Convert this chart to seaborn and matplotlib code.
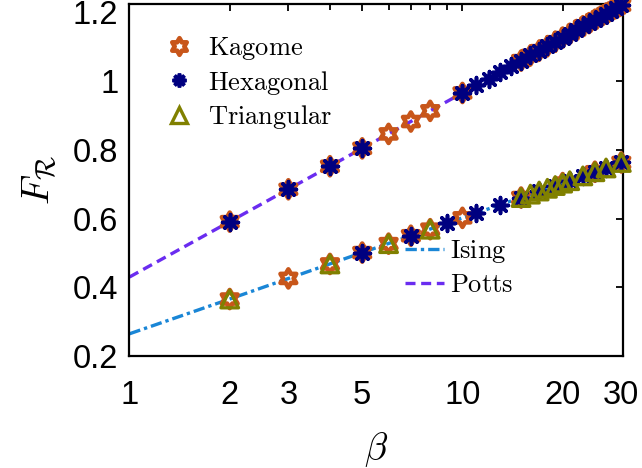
import numpy as np
import pandas as pd
import seaborn as sns
import matplotlib.pyplot as plt
from matplotlib.path import Path
from matplotlib.lines import Line2D
from matplotlib.ticker import FixedLocator, FixedFormatter, NullFormatter

# ---- data ----
kag_up_beta = [2, 3, 4, 5, 6, 7, 8, 10, 15, 16, 17, 18, 19, 20, 21, 22, 23, 24, 25, 26, 27, 28, 29, 30]
kag_up_F = [0.591, 0.685, 0.752, 0.804, 0.846, 0.882, 0.913, 0.965, 1.059, 1.074, 1.088, 1.101, 1.114,
            1.126, 1.137, 1.148, 1.159, 1.168, 1.178, 1.187, 1.196, 1.204, 1.212, 1.220]
kag_lo_beta = [2, 3, 4, 5, 6, 7, 8, 10, 15, 20, 25, 30]
kag_lo_F = [0.366, 0.426, 0.468, 0.501, 0.527, 0.550, 0.569, 0.602, 0.661, 0.703, 0.736, 0.763]

hex_up_beta = [2, 3, 4, 5, 10, 11, 12, 13, 14, 15, 16, 17, 18, 19, 20, 21, 22, 23, 24, 25, 26, 27, 28, 29, 30]
hex_up_F = [0.591, 0.685, 0.752, 0.804, 0.965, 0.987, 1.007, 1.026, 1.043, 1.059, 1.074, 1.088, 1.101,
            1.114, 1.126, 1.137, 1.148, 1.159, 1.168, 1.178, 1.187, 1.196, 1.204, 1.212, 1.220]
hex_lo_beta = [5, 7, 9, 11, 13, 15, 17, 19, 21, 23, 25, 27, 30]
hex_lo_F = [0.501, 0.550, 0.587, 0.616, 0.640, 0.661, 0.680, 0.696, 0.710, 0.724, 0.736, 0.747, 0.763]

tri_beta = [2, 4, 6, 8, 15, 16, 17, 18, 19, 20, 21, 23, 25, 27, 30]
tri_F = [0.366, 0.468, 0.527, 0.569, 0.661, 0.671, 0.680, 0.688, 0.696, 0.703, 0.710, 0.724, 0.736,
         0.747, 0.763]

ising_beta = [1, 2, 5, 10, 20, 30]
ising_F = [0.265, 0.366, 0.501, 0.602, 0.703, 0.763]
potts_beta = [1, 2, 5, 10, 20, 30]
potts_F = [0.430, 0.591, 0.804, 0.965, 1.126, 1.220]

xticks = [1, 2, 3, 5, 10, 20, 30]
xminor = [4, 6, 7, 8, 9]
yticks = [0.2, 0.4, 0.6, 0.8, 1.0, 1.2]
ytick_labels = ['0.2', '0.4', '0.6', '0.8', '1', '1.2']

c_kag = '#c8561a'
c_hex = '#000080'
c_tri = '#808000'
c_ising = '#1a86d6'
c_potts = '#6a2cf0'

# star of David outline marker
ang = np.deg2rad(90 + 30 * np.arange(12))
rad = np.where(np.arange(12) % 2 == 0, 1.0, 1 / np.sqrt(3))
verts = np.column_stack([rad * np.cos(ang), rad * np.sin(ang)])
verts = np.vstack([verts, verts[:1]])
hexagram = Path(verts, [Path.MOVETO] + [Path.LINETO] * 11 + [Path.CLOSEPOLY])
asterisk = (8, 2, 0)

sns.set_style('white')
plt.rcParams['font.family'] = ['Liberation Sans', 'DejaVu Sans']
plt.rcParams['mathtext.fontset'] = 'cm'
for k in ['text.color', 'axes.labelcolor', 'xtick.color', 'ytick.color']:
    plt.rcParams[k] = 'black'

ising_dash = [3.4, 1.2, 1.0, 1.2]
potts_dash = [3.0, 1.7]

fig = plt.figure(figsize=(6.42, 4.68), dpi=100)
ax = fig.add_axes([0.2017, 0.239, 0.7683, 0.752])

sns.lineplot(x=ising_beta, y=ising_F, ax=ax, color=c_ising, linewidth=2.4, zorder=2)
ax.lines[-1].set_dashes(ising_dash)
sns.lineplot(x=potts_beta, y=potts_F, ax=ax, color=c_potts, linewidth=2.4, zorder=2)
ax.lines[-1].set_dashes(potts_dash)

def hollow(b, f, marker, color, size, lw, z):
    sns.scatterplot(x=b, y=f, ax=ax, marker=marker, s=size, facecolor='none', edgecolor=color,
                    linewidth=lw, zorder=z, clip_on=False)

hollow(kag_up_beta, kag_up_F, hexagram, c_kag, 170, 3.3, 3)
hollow(kag_lo_beta, kag_lo_F, hexagram, c_kag, 170, 3.3, 3)
for b, f in [(hex_up_beta, hex_up_F), (hex_lo_beta, hex_lo_F)]:
    sns.scatterplot(x=b, y=f, ax=ax, marker=asterisk, s=130, color=c_hex, linewidth=2.6,
                    zorder=4, clip_on=False)
hollow(tri_beta, tri_F, '^', c_tri, 160, 2.4, 5)

ax.set_xscale('log')
ax.set_xlim(1, 30.3)
ax.set_ylim(0.2, 1.223)
ax.xaxis.set_major_locator(FixedLocator(xticks))
ax.xaxis.set_major_formatter(FixedFormatter([str(t) for t in xticks]))
ax.xaxis.set_minor_locator(FixedLocator(xminor))
ax.xaxis.set_minor_formatter(NullFormatter())
ax.yaxis.set_major_locator(FixedLocator(yticks))
ax.yaxis.set_major_formatter(FixedFormatter(ytick_labels))
ax.tick_params(which='both', direction='in', top=True, right=True, labelsize=23.5, width=1.3)
ax.tick_params(which='major', length=5)
ax.tick_params(which='minor', length=4)
ax.tick_params(axis='x', pad=17)
ax.tick_params(axis='y', pad=8)
for sp in ax.spines.values():
    sp.set_linewidth(1.6)
    sp.set_color('black')

ax.set_xlabel(r'$\beta$', fontsize=27, labelpad=14)
ax.set_ylabel(r'$F_{\mathcal{R}}$', fontsize=28, labelpad=10)

h1 = [Line2D([], [], marker=hexagram, color=c_kag, markerfacecolor='none', markeredgewidth=3.3,
             markersize=12, linestyle='none'),
      Line2D([], [], marker=asterisk, color=c_hex, markeredgewidth=2.6, markersize=10, linestyle='none'),
      Line2D([], [], marker='^', color=c_tri, markerfacecolor='none', markeredgewidth=2.4,
             markersize=12, linestyle='none')]
leg1 = ax.legend(h1, [r'$\mathrm{Kagome}$', r'$\mathrm{Hexagonal}$', r'$\mathrm{Triangular}$'],
                 loc='upper left', bbox_to_anchor=(0.02, 0.98), frameon=False, fontsize=19,
                 handletextpad=0.5, labelspacing=0.25, handlelength=1.2)
ax.add_artist(leg1)
l_ising = Line2D([], [], color=c_ising, linewidth=2.4, dashes=ising_dash)
l_potts = Line2D([], [], color=c_potts, linewidth=2.4, dashes=potts_dash)
ax.legend([l_ising, l_potts], [r'$\mathrm{Ising}$', r'$\mathrm{Potts}$'], loc='lower left',
          bbox_to_anchor=(0.51, 0.10), frameon=False, fontsize=19, handlelength=1.5,
          handletextpad=0.2, labelspacing=0.3)

fig.savefig('out.png', dpi=100)
